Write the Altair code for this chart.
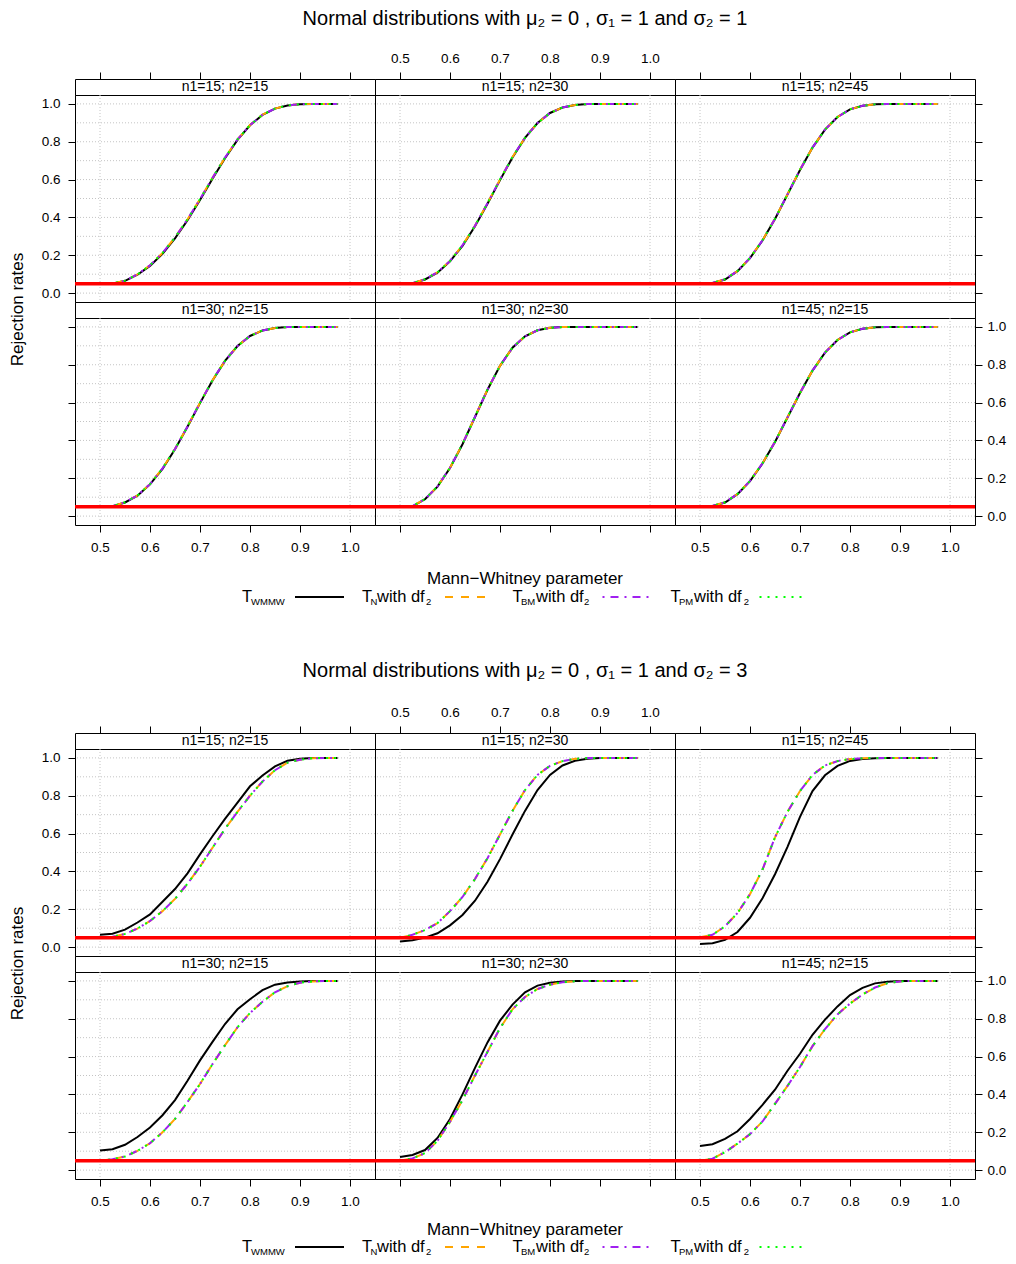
import altair as alt
import pandas as pd

FONT = "Liberation Sans"

# ---------------- data ----------------
x_vals = [0.5, 0.525, 0.55, 0.575, 0.6, 0.625, 0.65, 0.675, 0.7, 0.725,
          0.75, 0.775, 0.8, 0.825, 0.85, 0.875, 0.9, 0.925, 0.95, 0.975]

panel_labels = ["n1=15; n2=15", "n1=15; n2=30", "n1=15; n2=45",
                "n1=30; n2=15", "n1=30; n2=30", "n1=45; n2=15"]

fig_titles = ["Normal distributions with \u03bc\u2082 = 0 , \u03c3\u2081 = 1 and \u03c3\u2082 = 1",
              "Normal distributions with \u03bc\u2082 = 0 , \u03c3\u2081 = 1 and \u03c3\u2082 = 3"]

x_title = "Mann\u2212Whitney parameter"
y_title = "Rejection rates"

x_ticks = [0.5, 0.6, 0.7, 0.8, 0.9, 1.0]
y_ticks = [0.0, 0.2, 0.4, 0.6, 0.8, 1.0]
y_grid = [0.0, 0.1, 0.2, 0.3, 0.4, 0.5, 0.6, 0.7, 0.8, 0.9, 1.0]
x_grid = [0.5, 1.0]
alpha_level = [0.05]

# Figure 1: sigma1 = 1, sigma2 = 1 (all four tests overlap)
s1_p1_wmmw = [0.05, 0.05, 0.065, 0.097, 0.144, 0.208, 0.289, 0.385, 0.492, 0.605, 0.713, 0.810, 0.887, 0.942, 0.975, 0.992, 0.998, 1.0, 1.0, 1.0]
s1_p1_tn   = [0.05, 0.051, 0.066, 0.099, 0.147, 0.212, 0.294, 0.390, 0.497, 0.609, 0.716, 0.812, 0.888, 0.943, 0.975, 0.992, 0.998, 1.0, 1.0, 1.0]
s1_p2_wmmw = [0.05, 0.052, 0.072, 0.108, 0.168, 0.250, 0.353, 0.472, 0.597, 0.717, 0.820, 0.899, 0.952, 0.981, 0.994, 0.999, 1.0, 1.0, 1.0, 1.0]
s1_p2_tn   = [0.05, 0.052, 0.073, 0.110, 0.170, 0.253, 0.356, 0.475, 0.600, 0.719, 0.821, 0.899, 0.952, 0.981, 0.994, 0.999, 1.0, 1.0, 1.0, 1.0]
s1_p3_wmmw = [0.05, 0.053, 0.072, 0.116, 0.185, 0.278, 0.392, 0.521, 0.651, 0.769, 0.864, 0.931, 0.971, 0.990, 0.998, 1.0, 1.0, 1.0, 1.0, 1.0]
s1_p3_tn   = [0.05, 0.053, 0.073, 0.117, 0.186, 0.279, 0.393, 0.522, 0.652, 0.769, 0.864, 0.931, 0.971, 0.990, 0.998, 1.0, 1.0, 1.0, 1.0, 1.0]
s1_p4_wmmw = [0.05, 0.052, 0.072, 0.108, 0.168, 0.250, 0.353, 0.472, 0.597, 0.717, 0.820, 0.899, 0.952, 0.981, 0.994, 0.999, 1.0, 1.0, 1.0, 1.0]
s1_p4_tn   = [0.05, 0.052, 0.073, 0.109, 0.169, 0.252, 0.355, 0.474, 0.599, 0.718, 0.821, 0.899, 0.952, 0.981, 0.994, 0.999, 1.0, 1.0, 1.0, 1.0]
s1_p5_wmmw = [0.05, 0.052, 0.089, 0.156, 0.254, 0.380, 0.524, 0.668, 0.794, 0.890, 0.950, 0.982, 0.995, 0.999, 1.0, 1.0, 1.0, 1.0, 1.0, 1.0]
s1_p5_tn   = [0.05, 0.053, 0.090, 0.157, 0.255, 0.381, 0.525, 0.669, 0.794, 0.890, 0.950, 0.982, 0.995, 0.999, 1.0, 1.0, 1.0, 1.0, 1.0, 1.0]
s1_p6_wmmw = [0.05, 0.053, 0.072, 0.116, 0.185, 0.278, 0.392, 0.521, 0.651, 0.769, 0.864, 0.931, 0.971, 0.990, 0.998, 1.0, 1.0, 1.0, 1.0, 1.0]
s1_p6_tn   = [0.05, 0.053, 0.073, 0.117, 0.186, 0.279, 0.393, 0.522, 0.651, 0.769, 0.864, 0.931, 0.971, 0.990, 0.998, 1.0, 1.0, 1.0, 1.0, 1.0]

# Figure 2: sigma1 = 1, sigma2 = 3
s3_p1_wmmw = [0.065, 0.071, 0.092, 0.130, 0.173, 0.240, 0.307, 0.390, 0.490, 0.586, 0.678, 0.763, 0.850, 0.907, 0.955, 0.985, 0.996, 0.999, 1.0, 1.0]
s3_p1_tn   = [0.05, 0.055, 0.070, 0.098, 0.138, 0.190, 0.255, 0.335, 0.425, 0.525, 0.625, 0.715, 0.800, 0.875, 0.935, 0.975, 0.990, 0.998, 1.0, 1.0]
s3_p2_wmmw = [0.03, 0.036, 0.050, 0.073, 0.115, 0.170, 0.245, 0.345, 0.465, 0.595, 0.720, 0.830, 0.910, 0.960, 0.985, 0.995, 0.999, 1.0, 1.0, 1.0]
s3_p2_tn   = [0.05, 0.065, 0.090, 0.127, 0.190, 0.265, 0.360, 0.470, 0.595, 0.720, 0.830, 0.910, 0.958, 0.983, 0.995, 0.999, 1.0, 1.0, 1.0, 1.0]
s3_p3_wmmw = [0.017, 0.020, 0.038, 0.080, 0.155, 0.258, 0.385, 0.530, 0.688, 0.825, 0.908, 0.958, 0.984, 0.994, 0.998, 1.0, 1.0, 1.0, 1.0, 1.0]
s3_p3_tn   = [0.052, 0.065, 0.110, 0.180, 0.280, 0.410, 0.580, 0.715, 0.825, 0.910, 0.960, 0.983, 0.994, 0.998, 1.0, 1.0, 1.0, 1.0, 1.0, 1.0]
s3_p4_wmmw = [0.103, 0.110, 0.134, 0.175, 0.225, 0.290, 0.370, 0.472, 0.580, 0.678, 0.772, 0.850, 0.903, 0.951, 0.980, 0.992, 0.997, 0.999, 1.0, 1.0]
s3_p4_tn   = [0.05, 0.058, 0.072, 0.102, 0.142, 0.200, 0.270, 0.360, 0.455, 0.560, 0.660, 0.755, 0.830, 0.890, 0.940, 0.972, 0.990, 0.997, 1.0, 1.0]
s3_p5_wmmw = [0.069, 0.080, 0.106, 0.170, 0.270, 0.400, 0.540, 0.675, 0.790, 0.875, 0.940, 0.975, 0.990, 0.997, 1.0, 1.0, 1.0, 1.0, 1.0, 1.0]
s3_p5_tn   = [0.05, 0.062, 0.090, 0.155, 0.255, 0.370, 0.500, 0.625, 0.750, 0.850, 0.915, 0.957, 0.980, 0.993, 0.998, 1.0, 1.0, 1.0, 1.0, 1.0]
s3_p6_wmmw = [0.127, 0.137, 0.165, 0.205, 0.270, 0.345, 0.425, 0.525, 0.615, 0.715, 0.795, 0.865, 0.925, 0.963, 0.987, 0.996, 0.999, 1.0, 1.0, 1.0]
s3_p6_tn   = [0.05, 0.060, 0.095, 0.140, 0.190, 0.257, 0.350, 0.445, 0.545, 0.655, 0.745, 0.823, 0.880, 0.928, 0.965, 0.988, 0.997, 1.0, 1.0, 1.0]

series_names = ["T_WMMW", "T_N", "T_BM", "T_PM"]

fig1_panels = [
    [s1_p1_wmmw, s1_p1_tn, s1_p1_tn, s1_p1_tn],
    [s1_p2_wmmw, s1_p2_tn, s1_p2_tn, s1_p2_tn],
    [s1_p3_wmmw, s1_p3_tn, s1_p3_tn, s1_p3_tn],
    [s1_p4_wmmw, s1_p4_tn, s1_p4_tn, s1_p4_tn],
    [s1_p5_wmmw, s1_p5_tn, s1_p5_tn, s1_p5_tn],
    [s1_p6_wmmw, s1_p6_tn, s1_p6_tn, s1_p6_tn],
]
fig2_panels = [
    [s3_p1_wmmw, s3_p1_tn, s3_p1_tn, s3_p1_tn],
    [s3_p2_wmmw, s3_p2_tn, s3_p2_tn, s3_p2_tn],
    [s3_p3_wmmw, s3_p3_tn, s3_p3_tn, s3_p3_tn],
    [s3_p4_wmmw, s3_p4_tn, s3_p4_tn, s3_p4_tn],
    [s3_p5_wmmw, s3_p5_tn, s3_p5_tn, s3_p5_tn],
    [s3_p6_wmmw, s3_p6_tn, s3_p6_tn, s3_p6_tn],
]

# ---------------- styles ----------------
STYLES = {
    "T_WMMW": dict(color="#000000"),
    "T_N": dict(color="#FFA500", strokeDash=[8, 8]),
    "T_BM": dict(color="#A020F0", strokeDash=[2, 6, 8, 6]),
    "T_PM": dict(color="#00FF00", strokeDash=[2, 6]),
}
GRID_COLOR = "#C4C4C4"
TICK_FS = 13.5
STRIP_FS = 14
PW, PH, SH = 300, 207, 16

xs = alt.Scale(domain=[0.45, 1.05], nice=False, zero=False)
ys = alt.Scale(domain=[-0.047, 1.047], nice=False, zero=False)

common_axis = dict(domain=False, grid=False, ticks=True, tickColor="black", tickWidth=1,
                   tickSize=7, labelFont=FONT, labelFontSize=TICK_FS, labelColor="black",
                   labelFlush=False, labelOverlap=False, format=".1f")


def x_axis(orient, labels):
    pad = 7 if orient == "top" else 8
    return alt.Axis(orient=orient, values=x_ticks, labels=labels, labelPadding=pad,
                    title=None, **common_axis)


def y_axis(orient, labels, with_title=False):
    pad = 8 if orient == "left" else 5
    kw = dict(orient=orient, values=y_ticks, labels=labels, labelPadding=pad, **common_axis)
    if with_title:
        kw.update(title=y_title, titleFont=FONT, titleFontSize=17, titleFontWeight="normal",
                  titleColor="black", titleAngle=270, titleAlign="center",
                  titleBaseline="middle", titleX=-57.5, titleY=214)
    else:
        kw.update(title=None)
    return alt.Axis(**kw)


def panel(values4, pidx):
    row, col = divmod(pidx, 3)
    xax = x_axis("bottom", col != 1) if row == 1 else None
    if col == 0:
        yax = y_axis("left", row == 0, with_title=(row == 0))
    elif col == 2:
        yax = y_axis("right", row == 1)
    else:
        yax = None
    X = alt.X("x:Q", scale=xs, axis=xax)
    Y = alt.Y("y:Q", scale=ys, axis=yax)
    rows = []
    for name, vals in zip(series_names, values4):
        for xv, yv in zip(x_vals, vals):
            rows.append({"x": xv, "y": yv, "s": name})
    df = pd.DataFrame(rows)
    hgrid = alt.Chart(pd.DataFrame({"y": y_grid})).mark_rule(
        color=GRID_COLOR, strokeDash=[1, 2], strokeWidth=1).encode(y=Y)
    vgrid = alt.Chart(pd.DataFrame({"x": x_grid})).mark_rule(
        color=GRID_COLOR, strokeDash=[1, 2], strokeWidth=1).encode(x=X)
    lines = []
    for name in series_names:
        lines.append(alt.Chart(df).transform_filter(alt.datum.s == name)
                     .mark_line(strokeWidth=2, **STYLES[name]).encode(x=X, y=Y))
    red = alt.Chart(pd.DataFrame({"y": alpha_level})).mark_rule(
        color="#FF0000", strokeWidth=3.5).encode(y=Y)
    return alt.layer(hgrid, vgrid, *lines, red).properties(width=PW, height=PH)


def strip(label, pidx, top_axis):
    col = pidx % 3
    xax = x_axis("top", col == 1) if top_axis else None
    return alt.Chart(pd.DataFrame({"label": [label]})).mark_text(
        font=FONT, fontSize=STRIP_FS, color="black", baseline="middle", align="center"
    ).encode(
        x=alt.XDatum(0.75, type="quantitative", scale=xs, axis=xax),
        y=alt.value(SH / 2),
        text="label:N",
    ).properties(width=PW, height=SH)


def txt(s, x, y, size, align="left", baseline="middle"):
    return alt.Chart(pd.DataFrame({"t": [s]})).mark_text(
        font=FONT, fontSize=size, align=align, baseline=baseline, color="black"
    ).encode(text="t:N", x=alt.value(x), y=alt.value(y))


def seg(x1, x2, y, style):
    return alt.Chart(pd.DataFrame({"t": [0]})).mark_rule(strokeWidth=2, **style).encode(
        x=alt.value(x1), x2=alt.value(x2), y=alt.value(y))


LEG_FS = 16.5
SUB_FS = 9.5
# legend layout (pixels relative to the middle column)
legend_subs = ["WMMW", "N", "BM", "PM"]
legend_pos = [
    (-133, -124, None, None, -80, -31),
    (-13, -4.5, 2, 51, 70, 112),
    (137.4, 146, 161, 209, 227.5, 277.7),
    (295.5, 304, 319, 368.7, 384.5, 432),
]


def legend_layers(y0):
    layers = []
    for name, sub, (tx, sx, wx, twx, l1, l2) in zip(series_names, legend_subs, legend_pos):
        layers.append(txt("T", tx, y0, LEG_FS))
        layers.append(txt(sub, sx, y0 + 4.5, SUB_FS))
        if wx is not None:
            layers.append(txt("with df", wx, y0, LEG_FS))
            layers.append(txt("2", twx, y0 + 4.5, SUB_FS))
        layers.append(seg(l1, l2, y0, STYLES[name]))
    return layers


NOVIEW = alt.ViewBackground(stroke="transparent")


def blank(h):
    return alt.Chart(pd.DataFrame({"t": [""]})).mark_text().encode(
        text="t:N", x=alt.value(0), y=alt.value(0)
    ).properties(width=PW, height=h, view=NOVIEW)


TOP_H, GAP_H, BOT_H = 60, 208, 60
TITLE_FS = 20

title1_cell = alt.layer(txt(fig_titles[0], PW / 2, 0, TITLE_FS, align="center")).properties(
    width=PW, height=TOP_H, view=NOVIEW)

gap_cell = alt.layer(
    txt(x_title, PW / 2, 54, 17, align="center"),
    *legend_layers(72),
    txt(fig_titles[1], PW / 2, 146, TITLE_FS, align="center"),
).properties(width=PW, height=GAP_H, view=NOVIEW)

bottom_cell = alt.layer(
    txt(x_title, PW / 2, 51, 17, align="center"),
    *legend_layers(68),
).properties(width=PW, height=BOT_H, view=NOVIEW)


def figure_cells(panels):
    cells = []
    for i in range(3):
        cells.append(strip(panel_labels[i], i, True))
    for i in range(3):
        cells.append(panel(panels[i], i))
    for i in range(3, 6):
        cells.append(strip(panel_labels[i], i, False))
    for i in range(3, 6):
        cells.append(panel(panels[i], i))
    return cells


cells = [blank(TOP_H), title1_cell, blank(TOP_H)]
cells += figure_cells(fig1_panels)
cells += [blank(GAP_H), gap_cell, blank(GAP_H)]
cells += figure_cells(fig2_panels)
cells += [blank(BOT_H), bottom_cell, blank(BOT_H)]

chart = alt.concat(*cells, columns=3, spacing=0, bounds="flush").properties(
    padding={"left": 0, "top": 0, "right": 0, "bottom": 0}
).configure(font=FONT, background="white").configure_view(stroke="black", strokeWidth=1)

chart.save("out.html", embed_options={"renderer": "svg", "actions": False})
